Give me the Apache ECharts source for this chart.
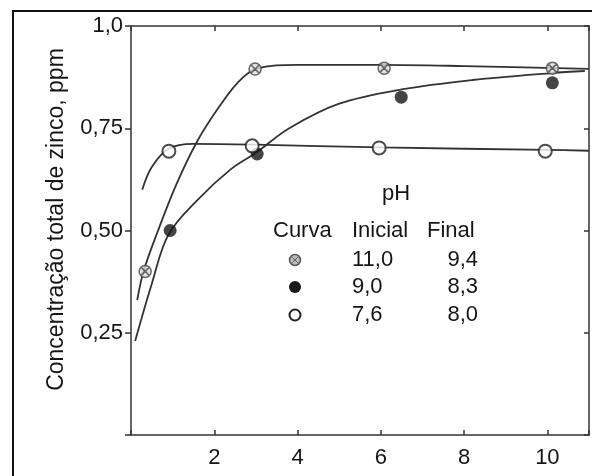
<!DOCTYPE html>
<html>
<head>
<meta charset="utf-8">
<script src="https://cdn.jsdelivr.net/npm/echarts@6/dist/echarts.min.js"></script>
<style>
  html, body { margin: 0; padding: 0; background: #fff; }
  #main { width: 592px; height: 476px; }
</style>
</head>
<body>
<div id="main"></div>
<script>
// tick labels (comma decimals, as in the original)
var yTickLabels = ['', '0,25', '0,50', '0,75', '1,0']
var xTickLabels = ['2', '4', '6', '8', '10']

// measured points, [x, concentration]
var pts110 = [[0.34, 0.40], [2.98, 0.895], [6.08, 0.897], [10.12, 0.897]]
var pts90 = [[0.94, 0.50], [3.03, 0.687], [6.49, 0.826], [10.12, 0.861]]
var pts76 = [[0.91, 0.694], [2.91, 0.707], [5.96, 0.702], [9.95, 0.694]]

// fitted curves
var curve110 = [[0.15, 0.33], [0.3, 0.40], [0.65, 0.50], [1.1, 0.615], [1.6, 0.72], [2.1, 0.80], [2.55, 0.86], [3.0, 0.895], [4.0, 0.905], [6.0, 0.905], [8.0, 0.902], [11.0, 0.895]]
var curve90 = [[0.1, 0.23], [0.5, 0.37], [0.9, 0.49], [1.6, 0.575], [2.4, 0.65], [3.0, 0.69], [3.8, 0.75], [5.0, 0.81], [6.5, 0.845], [8.2, 0.868], [10.1, 0.885], [10.9, 0.89]]
var curve76 = [[0.27, 0.60], [0.5, 0.655], [0.9, 0.70], [1.5, 0.712], [3.0, 0.71], [6.0, 0.703], [10.0, 0.697], [11.0, 0.695]]

// legend table
var legendCurva = ['x', 'filled', 'open']
var legendInicial = ['11,0', '9,0', '7,6']
var legendFinal = ['9,4', '8,3', '8,0']

var FONT = '"Liberation Sans", Arial, sans-serif'
var TXT = '#151515'
var LINE = '#333'
var crossSymbol = 'path://M0,6 A6,6 0 1,1 12,6 A6,6 0 1,1 0,6 Z M2,2 L10,10 M10,2 L2,10'

var chart = echarts.init(document.getElementById('main'))

var rowY = [260, 287, 315]
var legendGraphics = [
  { type: 'text', x: 396, y: 194, style: { text: 'pH', font: '22px ' + FONT, fill: TXT, align: 'center', verticalAlign: 'middle' } },
  { type: 'text', x: 273, y: 231, style: { text: 'Curva', font: '22px ' + FONT, fill: TXT, align: 'left', verticalAlign: 'middle' } },
  { type: 'text', x: 352, y: 231, style: { text: 'Inicial', font: '22px ' + FONT, fill: TXT, align: 'left', verticalAlign: 'middle' } },
  { type: 'text', x: 427, y: 231, style: { text: 'Final', font: '22px ' + FONT, fill: TXT, align: 'left', verticalAlign: 'middle' } }
]
legendCurva.forEach(function (kind, i) {
  var cy = rowY[i]
  if (kind === 'x') {
    legendGraphics.push({ type: 'circle', shape: { cx: 295, cy: cy, r: 5.5 }, style: { fill: '#bbb', stroke: '#555', lineWidth: 1.5 } })
    legendGraphics.push({ type: 'line', shape: { x1: 292, y1: cy - 3, x2: 298, y2: cy + 3 }, style: { stroke: '#666', lineWidth: 1 } })
    legendGraphics.push({ type: 'line', shape: { x1: 298, y1: cy - 3, x2: 292, y2: cy + 3 }, style: { stroke: '#666', lineWidth: 1 } })
  } else if (kind === 'filled') {
    legendGraphics.push({ type: 'circle', shape: { cx: 295, cy: cy, r: 6 }, style: { fill: '#1a1a1a' } })
  } else {
    legendGraphics.push({ type: 'circle', shape: { cx: 295, cy: cy, r: 5.5 }, style: { fill: '#fff', stroke: '#222', lineWidth: 2 } })
  }
  legendGraphics.push({ type: 'text', x: 352, y: cy, style: { text: legendInicial[i], font: '22px ' + FONT, fill: TXT, align: 'left', verticalAlign: 'middle' } })
  legendGraphics.push({ type: 'text', x: 478, y: cy, style: { text: legendFinal[i], font: '22px ' + FONT, fill: TXT, align: 'right', verticalAlign: 'middle' } })
})

var axisCommon = {
  min: 0,
  splitLine: { show: false },
  axisLine: { show: true, onZero: false, lineStyle: { color: LINE, width: 1.5 } }
}

chart.setOption({
  animation: false,
  backgroundColor: '#fff',
  grid: { left: 131, right: 3, top: 26, bottom: 41 },
  graphic: [
    { type: 'rect', shape: { x: 13, y: 11, width: 640, height: 520 }, style: { fill: 'none', stroke: '#111', lineWidth: 2 }, z: 0 }
  ].concat(legendGraphics),
  xAxis: [
    Object.assign({}, axisCommon, {
      type: 'value', position: 'bottom', max: 11, interval: 2,
      axisTick: { show: true, inside: true, length: 5, lineStyle: { color: LINE, width: 1.5 } },
      axisLabel: {
        margin: 12, color: TXT, fontSize: 22, fontFamily: FONT,
        formatter: function (v) { return xTickLabels.indexOf(String(v)) >= 0 ? String(v) : '' }
      }
    }),
    Object.assign({}, axisCommon, {
      type: 'value', position: 'top', max: 11, interval: 2,
      axisTick: { show: true, inside: true, length: 5, lineStyle: { color: LINE, width: 1.5 } },
      axisLabel: { show: false }
    })
  ],
  yAxis: [
    Object.assign({}, axisCommon, {
      type: 'value', position: 'left', max: 1, interval: 0.25,
      name: 'Concentração total de zinco, ppm',
      nameLocation: 'middle',
      nameGap: 63,
      nameTextStyle: { color: TXT, fontSize: 23, fontFamily: FONT, padding: [0, 0, 0, 22] },
      axisTick: { show: true, inside: false, length: 6, lineStyle: { color: LINE, width: 1.5 } },
      axisLabel: {
        margin: 8, color: TXT, fontSize: 22, fontFamily: FONT,
        formatter: function (v) { return yTickLabels[Math.round(v / 0.25)] || '' }
      }
    }),
    Object.assign({}, axisCommon, {
      type: 'value', position: 'right', max: 1, interval: 0.25,
      axisTick: { show: true, inside: true, length: 5, lineStyle: { color: LINE, width: 1.5 } },
      axisLabel: { show: false }
    })
  ],
  series: [
    { type: 'line', data: curve110, smooth: 0.35, showSymbol: false, lineStyle: { color: LINE, width: 1.8 }, z: 2 },
    { type: 'line', data: curve90, smooth: 0.35, showSymbol: false, lineStyle: { color: LINE, width: 1.8 }, z: 2 },
    { type: 'line', data: curve76, smooth: 0.35, showSymbol: false, lineStyle: { color: LINE, width: 1.8 }, z: 2 },
    { type: 'scatter', data: pts110, symbol: crossSymbol, symbolSize: 12, itemStyle: { color: '#ddd', borderColor: '#444', borderWidth: 1.5 }, z: 3 },
    { type: 'scatter', data: pts90, symbol: 'circle', symbolSize: 13, itemStyle: { color: '#151515' }, z: 3 },
    { type: 'scatter', data: pts76, symbol: 'circle', symbolSize: 13, itemStyle: { color: '#fff', borderColor: '#222', borderWidth: 2 }, z: 3 }
  ]
})
</script>
</body>
</html>
